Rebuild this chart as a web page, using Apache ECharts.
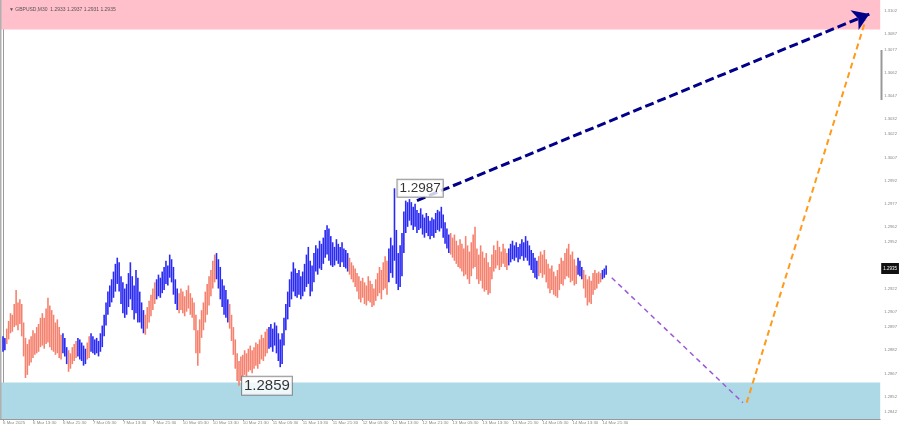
<!DOCTYPE html>
<html><head><meta charset="utf-8">
<script src="https://cdn.jsdelivr.net/npm/echarts@6/dist/echarts.min.js"></script>
<style>html,body{margin:0;padding:0;background:#fff}#c{width:900px;height:430px}</style>
</head><body><div id="c"></div>
<script>
// GBPUSD M30 bars: highs and lows, bar index 0 = 6 Mar 2025 05:30
const highs = [
1.2891,1.2890,1.2896,1.2901,1.2906,1.2905,1.2912,1.2921,1.2913,1.2915,
1.2912,1.2900,1.2890,1.2886,1.2889,1.2891,1.2895,1.2893,1.2897,1.2899,
1.2903,1.2906,1.2903,1.2909,1.2916,1.2911,1.2908,1.2905,1.2900,1.2902,
1.2897,1.2892,1.2893,1.2890,1.2884,1.2882,1.2880,1.2884,1.2886,1.2888,
1.2890,1.2889,1.2887,1.2885,1.2883,1.2887,1.2891,1.2893,1.2891,1.2889,
1.2890,1.2888,1.2893,1.2898,1.2905,1.2913,1.2920,1.2924,1.2928,1.2933,
1.2938,1.2942,1.2939,1.2930,1.2926,1.2922,1.2925,1.2932,1.2939,1.2930,
1.2924,1.2934,1.2929,1.2920,1.2913,1.2908,1.2905,1.2910,1.2914,1.2918,
1.2922,1.2926,1.2928,1.2931,1.2929,1.2933,1.2936,1.2940,1.2937,1.2944,
1.2941,1.2936,1.2928,1.2922,1.2919,1.2922,1.2920,1.2917,1.2921,1.2924,
1.2919,1.2916,1.2913,1.2905,1.2895,1.2902,1.2908,1.2913,1.2920,1.2925,
1.2930,1.2934,1.2940,1.2944,1.2945,1.2941,1.2936,1.2928,1.2924,1.2921,
1.2915,1.2912,1.2905,1.2897,1.2889,1.2880,1.2875,1.2878,1.2879,1.2882,
1.2880,1.2883,1.2885,1.2882,1.2884,1.2887,1.2886,1.2889,1.2892,1.2890,
1.2894,1.2896,1.2897,1.2899,1.2896,1.2900,1.2898,1.2893,1.2889,1.2893,
1.2903,1.2912,1.2920,1.2928,1.2933,1.2939,1.2935,1.2932,1.2934,1.2930,
1.2933,1.2938,1.2944,1.2949,1.2940,1.2937,1.2945,1.2950,1.2948,1.2953,
1.2951,1.2955,1.2960,1.2963,1.2961,1.2956,1.2952,1.2949,1.2954,1.2951,
1.2949,1.2952,1.2948,1.2947,1.2945,1.2942,1.2939,1.2937,1.2935,1.2932,
1.2930,1.2927,1.2929,1.2926,1.2924,1.2930,1.2927,1.2925,1.2922,1.2928,
1.2932,1.2936,1.2934,1.2939,1.2943,1.2940,1.2948,1.2955,1.2950,1.2987,
1.2960,1.2945,1.2950,1.2958,1.2972,1.2979,1.2978,1.2980,1.2978,1.2975,
1.2977,1.2973,1.2971,1.2974,1.2970,1.2968,1.2971,1.2969,1.2966,1.2968,
1.2967,1.2971,1.2973,1.2972,1.2975,1.2970,1.2965,1.2961,1.2957,1.2958,
1.2955,1.2957,1.2953,1.2950,1.2954,1.2951,1.2948,1.2956,1.2950,1.2946,
1.2952,1.2957,1.2962,1.2948,1.2944,1.2950,1.2946,1.2942,1.2945,1.2939,
1.2936,1.2944,1.2950,1.2947,1.2953,1.2949,1.2946,1.2951,1.2948,1.2945,
1.2948,1.2951,1.2953,1.2950,1.2952,1.2949,1.2951,1.2954,1.2952,1.2956,
1.2953,1.2950,1.2947,1.2945,1.2942,1.2940,1.2943,1.2946,1.2944,1.2947,
1.2941,1.2938,1.2935,1.2937,1.2933,1.2930,1.2934,1.2938,1.2942,1.2940,
1.2945,1.2948,1.2951,1.2944,1.2946,1.2941,1.2937,1.2942,1.2940,1.2936,
1.2934,1.2931,1.2928,1.2930,1.2927,1.2932,1.2934,1.2932,1.2933,1.2932,
1.2934,1.2935,1.2937
];
const lows = [
1.2881,1.2882,1.2886,1.2889,1.2893,1.2894,1.2897,1.2898,1.2895,1.2899,
1.2891,1.2878,1.2864,1.2866,1.2872,1.2874,1.2877,1.2879,1.2880,1.2881,
1.2884,1.2885,1.2883,1.2886,1.2887,1.2884,1.2882,1.2881,1.2879,1.2880,
1.2877,1.2876,1.2880,1.2878,1.2873,1.2868,1.2870,1.2873,1.2875,1.2877,
1.2878,1.2876,1.2875,1.2872,1.2873,1.2876,1.2877,1.2881,1.2880,1.2879,
1.2880,1.2878,1.2881,1.2884,1.2891,1.2898,1.2905,1.2910,1.2913,1.2916,
1.2920,1.2925,1.2920,1.2912,1.2906,1.2903,1.2905,1.2910,1.2915,1.2908,
1.2902,1.2906,1.2900,1.2900,1.2896,1.2893,1.2892,1.2896,1.2900,1.2904,
1.2908,1.2912,1.2915,1.2917,1.2916,1.2919,1.2921,1.2925,1.2924,1.2929,
1.2926,1.2918,1.2912,1.2908,1.2906,1.2908,1.2906,1.2904,1.2907,1.2909,
1.2905,1.2903,1.2895,1.2880,1.2872,1.2880,1.2890,1.2895,1.2900,1.2905,
1.2911,1.2917,1.2922,1.2926,1.2928,1.2922,1.2915,1.2910,1.2905,1.2903,
1.2900,1.2896,1.2888,1.2879,1.2870,1.2862,1.2859,1.2862,1.2864,1.2866,
1.2865,1.2868,1.2869,1.2867,1.2870,1.2872,1.2870,1.2873,1.2876,1.2875,
1.2878,1.2880,1.2883,1.2884,1.2881,1.2885,1.2880,1.2875,1.2871,1.2873,
1.2885,1.2895,1.2902,1.2910,1.2915,1.2920,1.2917,1.2916,1.2918,1.2915,
1.2917,1.2920,1.2923,1.2925,1.2917,1.2920,1.2926,1.2933,1.2931,1.2935,
1.2934,1.2938,1.2942,1.2944,1.2940,1.2937,1.2936,1.2937,1.2940,1.2938,
1.2936,1.2939,1.2936,1.2935,1.2933,1.2931,1.2928,1.2926,1.2923,1.2920,
1.2915,1.2913,1.2916,1.2912,1.2911,1.2914,1.2913,1.2910,1.2911,1.2914,
1.2917,1.2919,1.2915,1.2921,1.2922,1.2918,1.2926,1.2932,1.2929,1.2940,
1.2925,1.2921,1.2923,1.2930,1.2945,1.2958,1.2962,1.2966,1.2963,1.2960,
1.2962,1.2958,1.2960,1.2961,1.2957,1.2955,1.2958,1.2956,1.2954,1.2956,
1.2955,1.2958,1.2960,1.2959,1.2961,1.2955,1.2951,1.2948,1.2945,1.2944,
1.2942,1.2940,1.2938,1.2936,1.2935,1.2933,1.2930,1.2931,1.2928,1.2925,
1.2930,1.2935,1.2936,1.2928,1.2925,1.2927,1.2922,1.2920,1.2921,1.2918,
1.2919,1.2928,1.2933,1.2935,1.2937,1.2934,1.2936,1.2938,1.2936,1.2934,
1.2937,1.2939,1.2941,1.2940,1.2942,1.2939,1.2941,1.2943,1.2940,1.2942,
1.2940,1.2937,1.2934,1.2932,1.2929,1.2928,1.2930,1.2932,1.2929,1.2931,
1.2926,1.2922,1.2919,1.2921,1.2918,1.2917,1.2916,1.2921,1.2925,1.2924,
1.2928,1.2930,1.2929,1.2926,1.2927,1.2924,1.2925,1.2931,1.2930,1.2928,
1.2922,1.2916,1.2911,1.2913,1.2912,1.2918,1.2921,1.2922,1.2925,1.2926,
1.2928,1.2929,1.2931
];
// wave colouring: segment start index and colour key (b = blue, s = salmon)
const segStarts = [0,2,32,35,40,45,47,76,82,94,114,121,142,185,206,239,270,286,307,310,320];
const segKeys   = ['b','s','b','s','b','s','b','s','b','s','b','s','b','s','b','s','b','s','b','s','b'];
// time labels every 16 bars
const timeLabels = ['6 Mar 2025','6 Mar 13:30','6 Mar 21:30','7 Mar 05:30','7 Mar 13:30','7 Mar 21:30',
 '10 Mar 05:30','10 Mar 13:30','10 Mar 21:30','11 Mar 05:30','11 Mar 13:30','11 Mar 21:30',
 '12 Mar 05:30','12 Mar 13:30','12 Mar 21:30','13 Mar 05:30','13 Mar 13:30','13 Mar 21:30',
 '14 Mar 05:30','14 Mar 13:30','14 Mar 21:30'];
const priceTicks = [1.3102,1.3087,1.3077,1.3062,1.3047,1.3032,1.3022,1.3007,1.2992,1.2977,
 1.2962,1.2952,1.2922,1.2907,1.2897,1.2882,1.2867,1.2852,1.2842];
const headerText = 'GBPUSD,M30  1.2933 1.2937 1.2931 1.2935';
const lastPrice = 1.2935;
const extremes = [[209, 1.2987], [126, 1.2859]];
const resistanceZone = [1.3090, 1.31091];
const supportZone = [1.28374, 1.2861];
const forecastMain = [[221, 1.2979], [462.5, 1.3100]];
const forecastDown = [[325, 1.2929], [395, 1.2848]];
const forecastUp = [[397, 1.2848], [460.5, 1.3096]];

const BLUE = '#2a2af2', SALMON = '#f5826f';
function keyAt(i){ let k = segKeys[0]; for (let s = 0; s < segStarts.length; s++) if (segStarts[s] <= i) k = segKeys[s]; return k; }
const barData = highs.map((h, i) => [i, lows[i], h, keyAt(i) === 'b' ? 1 : 0]);

const chart = echarts.init(document.getElementById('c'), null, {renderer: 'canvas'});
const labelFont = 'Liberation Sans, Arial, sans-serif';
chart.setOption({
  animation: false,
  backgroundColor: '#fff',
  title: {text: '\u25BC ' + headerText, left: 4, top: 2, textStyle: {fontSize: 5, fontWeight: 'normal', color: '#555', fontFamily: labelFont}},
  grid: {left: 0, right: 19, top: 0, bottom: 11},
  xAxis: {
    type: 'value', min: -1.6, max: 468.3,
    splitLine: {show: false},
    axisLine: {show: true, lineStyle: {color: '#999', width: 1}},
    axisTick: {show: true, length: 2, lineStyle: {color: '#999'}, customValues: timeLabels.map((t, k) => k * 16)},
    axisLabel: {customValues: timeLabels.map((t, k) => k * 16), formatter: v => timeLabels[Math.round(v / 16)] || '',
      fontSize: 4.4, color: '#888', align: 'left', margin: 2, fontFamily: labelFont}
  },
  yAxis: {
    type: 'value', position: 'right', min: supportZone[0], max: resistanceZone[1],
    splitLine: {show: false},
    axisLine: {show: true, lineStyle: {color: '#999', width: 1}},
    axisTick: {show: false},
    axisLabel: {customValues: priceTicks, formatter: v => v.toFixed(4), fontSize: 4.2, color: '#888', margin: 4, fontFamily: labelFont}
  },
  graphic: [
    {type: 'rect', shape: {x: 880.5, y: 50, width: 2, height: 50}, style: {fill: '#999'}},
    {type: 'rect', shape: {x: 0, y: 0, width: 1.5, height: 419}, style: {fill: '#b0b0b0'}, z: 100}
  ],
  series: [
    {
      type: 'scatter', name: 'zones', data: [extremes[0]], symbolSize: 0, z: 0, silent: true,
      markArea: {silent: true, data: [
        [{yAxis: resistanceZone[0], itemStyle: {color: '#ffc0cb'}}, {yAxis: resistanceZone[1]}],
        [{yAxis: supportZone[0], itemStyle: {color: '#add8e6'}}, {yAxis: supportZone[1]}]
      ]},
      markLine: {silent: true, symbol: 'none', precision: 4, lineStyle: {width: 0, color: 'rgba(0,0,0,0)'},
        data: [{yAxis: lastPrice}],
        label: {show: true, position: 'end', distance: 1, formatter: () => lastPrice.toFixed(4),
          backgroundColor: '#111', color: '#fff', fontSize: 4.5, padding: [3, 2], fontFamily: labelFont}}
    },
    {
      type: 'custom', name: 'bars', z: 3, clip: true,
      encode: {x: 0, y: [1, 2]},
      data: barData,
      renderItem: function (params, api) {
        const i = api.value(0);
        const lo = api.coord([i, api.value(1)]);
        const hi = api.coord([i, api.value(2)]);
        return {type: 'line', shape: {x1: lo[0], y1: lo[1], x2: hi[0], y2: hi[1]},
          style: {stroke: api.value(3) ? BLUE : SALMON, lineWidth: 1.6}};
      }
    },
    {
      type: 'lines', coordinateSystem: 'cartesian2d', z: 5, silent: true,
      data: [{coords: forecastDown}],
      lineStyle: {color: '#9b59d6', width: 1.5, type: [5, 4], opacity: 1}
    },
    {
      type: 'lines', coordinateSystem: 'cartesian2d', z: 5, silent: true,
      data: [{coords: forecastUp}],
      lineStyle: {color: '#ff9a1a', width: 2, type: [6, 4], opacity: 1}
    },
    {
      type: 'lines', coordinateSystem: 'cartesian2d', z: 6, silent: true,
      data: [{coords: forecastMain}],
      symbol: ['none', 'arrow'], symbolSize: 16,
      lineStyle: {color: '#00008b', width: 3, type: [9, 4], opacity: 1}
    },
    {
      type: 'scatter', name: 'extremes', z: 7, symbolSize: 0, silent: true,
      data: extremes.map((e, k) => ({value: e, label: {fontSize: k === 0 ? 13.5 : 15}})),
      label: {show: true, position: 'right', distance: 3, formatter: p => p.value[1].toFixed(4),
        color: '#000', backgroundColor: '#fff', borderColor: '#777', borderWidth: 1, padding: [2, 2, 1, 2],
        fontFamily: 'Liberation Sans, Arial, sans-serif'}
    }
  ]
});
</script>
</body></html>
